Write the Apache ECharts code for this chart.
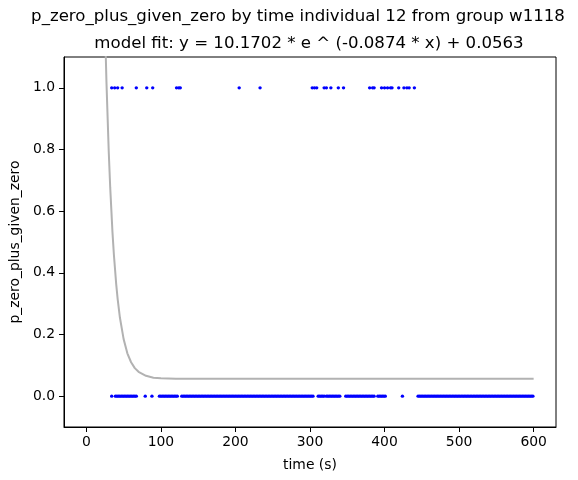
<!DOCTYPE html>
<html>
<head>
<meta charset="utf-8">
<script src="https://cdn.jsdelivr.net/npm/echarts@6/dist/echarts.min.js"></script>
<style>
  html, body { margin: 0; padding: 0; background: #fff; }
  #chart { width: 578px; height: 480px; }
</style>
</head>
<body>
<div id="chart"></div>
<script>
// times (s) where the value was 1
var oneTimes = [34, 38, 42, 48, 67, 81, 89, 121, 124, 126, 205, 233, 303, 306, 309,
    319, 322, 328, 338, 345, 380, 384, 386, 396, 400, 404, 408, 410, 419, 426, 430, 433, 440];

// times (s) where the value was 0
var zeroTimes = [34, 39, 41, 43, 45, 47, 49, 51, 53, 55, 57, 59, 61, 63, 65, 67,
    79, 88,
    98, 100, 102, 104, 106, 108, 110, 112, 114, 116, 118, 120, 122,
    128, 130, 132, 134, 136, 138, 140, 142, 144, 146, 148, 150, 152, 154, 156, 158, 160,
    162, 164, 166, 168, 170, 172, 174, 176, 178, 180, 182, 184, 186, 188, 190, 192, 194,
    196, 198, 200, 202, 204, 206, 208, 210, 212, 214, 216, 218, 220, 222, 224, 226, 228,
    230, 232, 234, 236, 238, 240, 242, 244, 246, 248, 250, 252, 254, 256, 258, 260, 262,
    264, 266, 268, 270, 272, 274, 276, 278, 280, 282, 284, 286, 288, 290, 292, 294, 296,
    298, 300, 302, 304,
    311, 313, 315, 317, 319, 322, 324, 326, 328, 330, 332, 334, 336, 338, 340,
    348, 350, 352, 354, 356, 358, 360, 362, 364, 366, 368, 370, 372, 374, 376, 378, 380,
    382, 384, 386,
    391, 393, 395, 397, 399, 401,
    424,
    445, 447, 449, 451, 453, 455, 457, 459, 461, 463, 465, 467, 469, 471, 473, 475, 477,
    479, 481, 483, 485, 487, 489, 491, 493, 495, 497, 499, 501, 503, 505, 507, 509, 511,
    513, 515, 517, 519, 521, 523, 525, 527, 529, 531, 533, 535, 537, 539, 541, 543, 545,
    547, 549, 551, 553, 555, 557, 559, 561, 563, 565, 567, 569, 571, 573, 575, 577, 579,
    581, 583, 585, 587, 589, 591, 593, 595, 597, 599];

// model fit curve
var fitX = [0, 10, 20, 22, 25, 27, 30, 32, 35, 37, 40, 42, 45, 50, 55, 60, 65, 70, 80, 90, 100, 120, 150, 200, 300, 400, 500, 600];
var fitY = [10.23, 4.30, 1.83, 1.543, 1.20, 1.016, 0.795, 0.677, 0.533, 0.457, 0.364, 0.315, 0.255, 0.185, 0.139, 0.110, 0.091, 0.079, 0.066, 0.060, 0.058, 0.0565, 0.0563, 0.0563, 0.0563, 0.0563, 0.0563, 0.0563];

var xTicks = [0, 100, 200, 300, 400, 500, 600];
var yTicks = [0, 0.2, 0.4, 0.6, 0.8, 1.0];

var titleMain = 'p_zero_plus_given_zero by time individual 12 from group w1118';
var titleSub = 'model fit: y = 10.1702 * e ^ (-0.0874 * x) + 0.0563';

var font = 'DejaVu Sans';
var titleStyle = {
    fontFamily: font,
    fontSize: 16.6,
    fontWeight: 'normal',
    color: '#000'
};

var chart = echarts.init(document.getElementById('chart'), null, { renderer: 'canvas' });

var option = {
    backgroundColor: '#fff',
    animation: false,
    title: [
        { text: titleMain, left: 298, top: 8, textAlign: 'center', padding: 0, textStyle: titleStyle },
        { text: titleSub, left: 309, top: 35, textAlign: 'center', padding: 0, textStyle: titleStyle }
    ],
    grid: {
        left: 62, right: 22, top: 57, bottom: 53,
        show: true,
        borderColor: '#000',
        borderWidth: 1,
        containLabel: false
    },
    xAxis: {
        type: 'value',
        min: -30,
        max: 630,
        name: 'time (s)',
        nameLocation: 'middle',
        nameGap: 31,
        nameTextStyle: { fontFamily: font, fontSize: 13.9, color: '#000' },
        axisLine: { show: true, onZero: false, lineStyle: { color: '#000', width: 1 } },
        axisTick: { show: true, inside: false, length: 5, customValues: xTicks, lineStyle: { color: '#000' } },
        axisLabel: {
            customValues: xTicks,
            margin: 8,
            fontFamily: font, fontSize: 13.9, color: '#000'
        },
        splitLine: { show: false }
    },
    yAxis: {
        type: 'value',
        min: -0.1,
        max: 1.1,
        name: 'p_zero_plus_given_zero',
        nameLocation: 'middle',
        nameGap: 37,
        nameRotate: 90,
        nameTextStyle: { fontFamily: font, fontSize: 13.9, color: '#000' },
        axisLine: { show: true, onZero: false, lineStyle: { color: '#000', width: 1 } },
        axisTick: { show: true, inside: false, length: 5, customValues: yTicks, lineStyle: { color: '#000' } },
        axisLabel: {
            customValues: yTicks,
            margin: 9,
            fontFamily: font, fontSize: 13.9, color: '#000',
            formatter: function (v) { return v.toFixed(1); }
        },
        splitLine: { show: false }
    },
    series: [
        {
            type: 'line',
            data: fitX.map(function (x, i) { return [x, fitY[i]]; }),
            showSymbol: false,
            smooth: false,
            clip: true,
            lineStyle: { color: '#b2b2b2', width: 2 },
            z: 2
        },
        {
            type: 'scatter',
            data: oneTimes.map(function (t) { return [t, 1]; }),
            symbolSize: 3.4,
            itemStyle: { color: '#0000ff', opacity: 1 },
            z: 3
        },
        {
            type: 'scatter',
            data: zeroTimes.map(function (t) { return [t, 0]; }),
            symbolSize: 3.4,
            itemStyle: { color: '#0000ff', opacity: 1 },
            z: 3
        }
    ]
};

chart.setOption(option);
</script>
</body>
</html>
